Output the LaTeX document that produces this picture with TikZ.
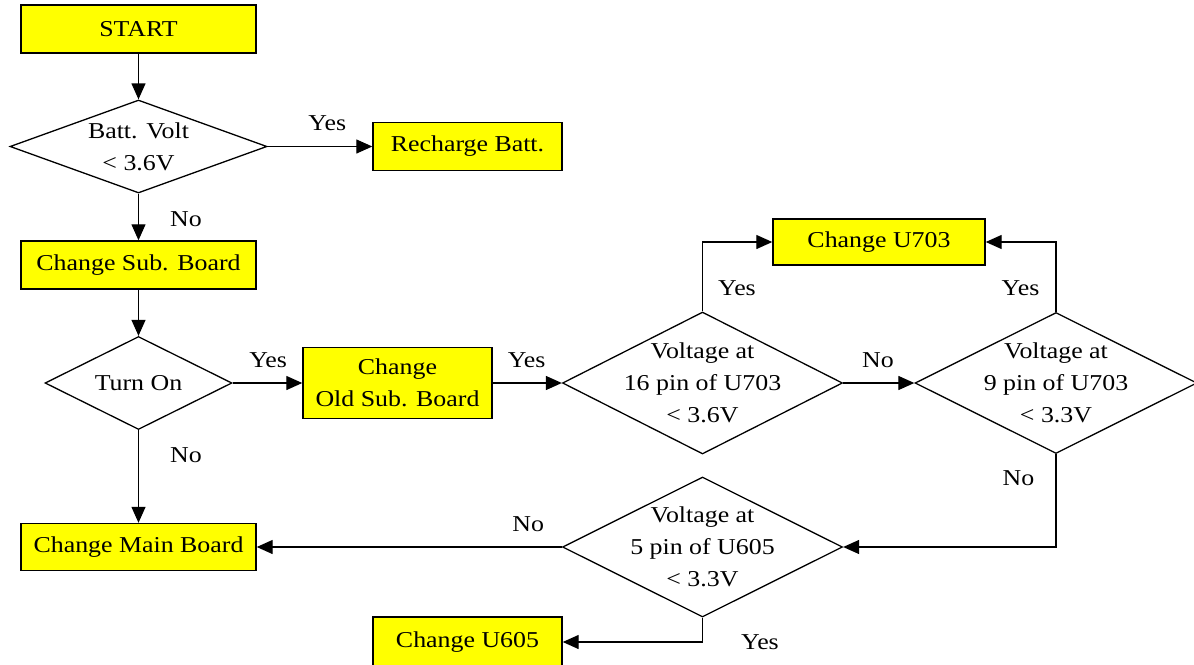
\documentclass[tikz,border=0pt]{standalone}
\usepackage{fontspec}
\setmainfont{Liberation Serif}[FakeStretch=1.14]
\usetikzlibrary{shapes.geometric, arrows.meta, positioning}
\definecolor{boxyellow}{rgb}{1.0, 1.0, 0.0}

\begin{document}
\begin{tikzpicture}[x=1pt, y=-1pt,
        every node/.style={font=\fontsize{22.7}{32}\selectfont},
        process/.style={rectangle, draw, line width=1.4pt, fill=boxyellow, inner sep=0pt},
        decision/.style={diamond, draw, line width=1.3pt, inner sep=0pt},
        dtext/.style={align=center, inner sep=0pt},
        lbl/.style={inner sep=0pt},
        flow/.style={line width=1.3pt, -{Triangle[length=16pt, width=14pt]}}]
        \useasboundingbox (0,0) rectangle (1194,664);

        % Left column
        \node[process, minimum width=235pt, minimum height=48pt] (start) at (138.5,29) {START};
        \node[decision, minimum width=257pt, minimum height=93pt] (batt) at (138.5,146.5) {};
        \node[dtext] (batttext) at (batt) {Batt. Volt\\< 3.6V};
        \node[process, minimum width=189pt, minimum height=48pt] (recharge) at (467.5,146.5) {Recharge Batt.};
        \node[process, minimum width=235pt, minimum height=48pt] (subboard) at (138.5,265) {Change Sub. Board};
        \node[decision, minimum width=187pt, minimum height=93pt] (turnon) at (138.5,383) {};
        \node[dtext] (turnontext) at (turnon) {Turn On};
        \node[process, minimum width=189pt, minimum height=71pt, align=center] (oldsub) at (397.5,383) {Change\\Old Sub. Board};
        \node[process, minimum width=235pt, minimum height=47pt] (mainboard) at (138.5,547) {Change Main Board};

        % Voltage checks
        \node[decision, minimum width=280pt, minimum height=142pt] (pinsixteen) at (702.5,383) {};
        \node[dtext] (pinsixteentext) at (pinsixteen) {Voltage at\\16 pin of U703\\< 3.6V};
        \node[decision, minimum width=282pt, minimum height=141pt] (pinnine) at (1056,383) {};
        \node[dtext] (pinninetext) at (pinnine) {Voltage at\\9 pin of U703\\< 3.3V};
        \node[decision, minimum width=280pt, minimum height=140pt] (pinfive) at (702.5,547) {};
        \node[dtext] (pinfivetext) at (pinfive) {Voltage at\\5 pin of U605\\< 3.3V};
        \node[process, minimum width=212pt, minimum height=46pt] (useven) at (879,242) {Change U703};
        \node[process, minimum width=189pt, minimum height=50pt] (usix) at (467.5,642) {Change U605};

        % Connections
        \draw[flow] (start) -- (batt);
        \draw[flow] (batt) -- node[lbl, pos=0.57, above=15pt] (yesbatt) {Yes} (recharge);
        \draw[flow] (batt) -- node[lbl, pos=0.54, right=31pt] (nobatt) {No} (subboard);
        \draw[flow] (subboard) -- (turnon);
        \draw[flow] (turnon) -- node[lbl, pos=0.51, above=15pt] (yesturnon) {Yes} (oldsub);
        \draw[flow] (turnon) -- node[lbl, pos=0.27, right=31pt] (noturnon) {No} (mainboard);
        \draw[flow] (oldsub) -- node[lbl, pos=0.49, above=15pt] (yesoldsub) {Yes} (pinsixteen);
        \draw[flow] (pinsixteen) -- node[lbl, pos=0.49, above=15pt] (nosixteen) {No} (pinnine);
        \draw[flow] (pinsixteen.north) |- node[lbl, pos=0.17, right=15pt] (yessixteen) {Yes} (useven.west);
        \draw[flow] (pinnine.north) |- node[lbl, pos=0.17, left=16pt] (yesnine) {Yes} (useven.east);
        \draw[flow] (pinnine.south) |- node[lbl, pos=0.13, left=21pt] (nonine) {No} (pinfive.east);
        \draw[flow] (pinfive.west) -- node[lbl, pos=0.11, above=15pt] (nofive) {No} (mainboard.east);
        \draw[flow] (pinfive.south) |- node[lbl, pos=0.5, right=38pt] (yesfive) {Yes} (usix.east);
    \end{tikzpicture}
\end{document}
